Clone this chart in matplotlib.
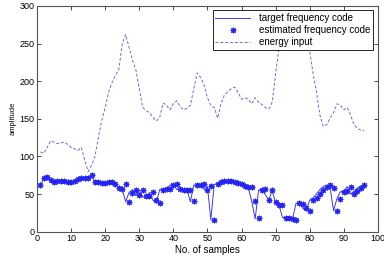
import numpy as np
import matplotlib
matplotlib.use('Agg')
import matplotlib.pyplot as plt

plt.rcParams['font.family'] = ['Liberation Sans', 'DejaVu Sans']

samples = np.arange(1, 97)

target_code = [62, 71, 72, 68, 66, 68, 67, 67, 66, 66,
               67, 69, 70, 71, 72, 75, 66, 66, 65, 65,
               66, 66, 63, 58, 56, 40, 52, 56, 48, 56,
               46, 46, 52, 42, 38, 56, 57, 57, 62, 63,
               56, 56, 56, 56, 40, 62, 62, 63, 56, 60,
               16, 63, 64, 66, 67, 67, 67, 66, 65, 62,
               61, 59, 40, 17, 55, 57, 49, 42, 55, 38,
               36, 19, 18, 17, 18, 38, 37, 31, 28, 42,
               45, 50, 56, 60, 62, 58, 28, 44, 53, 54,
               60, 50, 54, 58, 61, 62]

estimated_code = [62, 71, 73, 69, 66, 68, 68, 67, 66, 66,
                  68, 70, 71, 71, 72, 76, 66, 66, 65, 65,
                  66, 66, 64, 58, 57, 64, 39, 52, 56, 49,
                  56, 47, 47, 53, 42, 38, 56, 57, 57, 62,
                  63, 57, 56, 56, 56, 41, 62, 62, 63, 56,
                  61, 15, 64, 66, 67, 67, 67, 66, 65, 63,
                  61, 60, 59, 41, 18, 56, 57, 42, 55, 40,
                  36, 35, 18, 18, 17, 15, 38, 37, 31, 28,
                  42, 45, 50, 56, 60, 62, 58, 28, 44, 53,
                  54, 60, 50, 54, 58, 62]

energy_input = [106, 104, 112, 121, 119, 117, 118, 119, 116, 112,
                110, 108, 112, 95, 80, 88, 100, 125, 148, 165,
                185, 198, 208, 215, 250, 262, 245, 228, 215, 190,
                165, 161, 158, 152, 147, 152, 171, 168, 162, 170,
                174, 166, 162, 164, 168, 190, 211, 205, 195, 178,
                168, 165, 151, 170, 182, 186, 190, 192, 185, 176,
                178, 176, 170, 178, 172, 169, 165, 163, 172, 210,
                245, 270, 282, 286, 286, 284, 280, 272, 260, 240,
                210, 185, 155, 140, 142, 151, 158, 170, 168, 162,
                165, 155, 142, 137, 135, 134]

fig = plt.figure(figsize=(3.84, 2.68), dpi=100)
ax = fig.add_axes([0.0964, 0.1354, 0.8876, 0.8426])

ax.plot(samples, target_code, '-', color='#3a3ae8', lw=0.7, label='target frequency code')
ax.plot(samples, estimated_code, linestyle='none', marker=(8, 2, 0), ms=4,
        mew=0.8, color='#2424f0', label='estimated frequency code')
ax.plot(samples, energy_input, '--', color='#6a6ad8', lw=0.7, dashes=(3, 2),
        label='energy input')

ax.set_xlim(0, 100)
ax.set_ylim(0, 300)
ax.set_xticks(np.arange(0, 101, 10))
ax.set_yticks(np.arange(0, 301, 50))
ax.tick_params(direction='in', length=3, width=0.5, labelsize=6.5,
               top=True, right=True, pad=2)
for s in ax.spines.values():
    s.set_linewidth(0.8)
    s.set_color('#555555')

ax.set_xlabel('No. of samples', fontsize=7, labelpad=1)
ax.set_ylabel('amplitude', fontsize=5.5, labelpad=2)

leg = ax.legend(loc='upper right', fontsize=7, fancybox=False, framealpha=1,
                edgecolor='black', handlelength=3.6, borderpad=0.3,
                labelspacing=0.2, handletextpad=0.9, borderaxespad=0.45)
leg.get_frame().set_linewidth(0.6)

fig.savefig('out.png', dpi=100)
